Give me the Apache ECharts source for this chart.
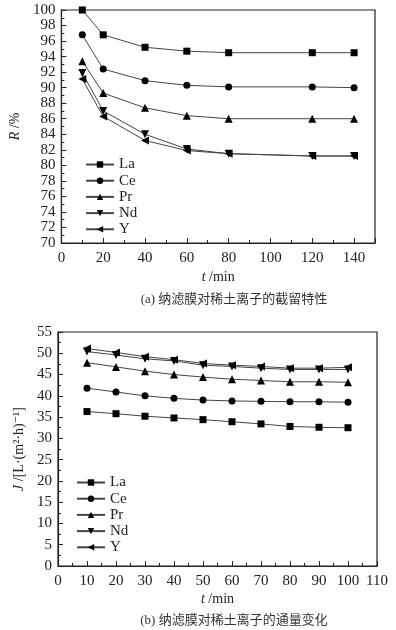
<!DOCTYPE html>
<html>
<head>
<meta charset="utf-8">
<script src="https://cdn.jsdelivr.net/npm/echarts@6/dist/echarts.min.js"></script>
<style>
  html, body { margin: 0; padding: 0; background: #fff; }
  #main { width: 396px; height: 630px; }
</style>
</head>
<body>
<div id="main"></div>
<script>
// (a) 截留特性
const timeA = [10, 20, 40, 60, 80, 120, 140];
const rejLa = [100.0, 96.8, 95.2, 94.7, 94.5, 94.5, 94.5];
const rejCe = [96.8, 92.4, 90.9, 90.3, 90.1, 90.1, 90.0];
const rejPr = [93.4, 89.3, 87.4, 86.4, 86.0, 86.0, 86.0];
const rejNd = [91.9, 87.0, 84.0, 82.1, 81.5, 81.2, 81.2];
const rejY  = [91.1, 86.3, 83.2, 81.9, 81.5, 81.2, 81.2];

// (b) 通量变化
const timeB = [10, 20, 30, 40, 50, 60, 70, 80, 90, 100];
const fluxLa = [36.3, 35.8, 35.2, 34.8, 34.4, 33.9, 33.4, 32.8, 32.6, 32.5];
const fluxCe = [41.8, 40.9, 40.0, 39.4, 39.0, 38.8, 38.7, 38.6, 38.6, 38.5];
const fluxPr = [47.8, 46.8, 45.8, 45.0, 44.4, 43.9, 43.6, 43.3, 43.3, 43.2];
const fluxNd = [50.4, 49.6, 48.7, 48.2, 47.2, 46.9, 46.5, 46.2, 46.2, 46.2];
const fluxY  = [51.1, 50.2, 49.2, 48.5, 47.6, 47.2, 46.9, 46.5, 46.5, 46.7];

const names = ['La', 'Ce', 'Pr', 'Nd', 'Y'];
const symbols = ['rect', 'circle', 'triangle', 'triangle', 'triangle'];
const rotates = [0, 0, 0, 180, 90];
const symSizes = [7, 7, 8, 8, 8];

const serif = '"Liberation Serif", "DejaVu Serif", serif';
const cjk = '"Liberation Serif", "Noto Sans CJK SC", serif';

const myChart = echarts.init(document.getElementById('main'));

function pairs(xs, ys) {
  return xs.map((x, i) => [x, ys[i]]);
}

function makeSeries(idx, xs, ys, k) {
  return {
    name: names[k],
    type: 'line',
    xAxisIndex: idx,
    yAxisIndex: idx,
    data: pairs(xs, ys),
    symbol: symbols[k],
    symbolRotate: rotates[k],
    symbolSize: symSizes[k],
    showAllSymbol: true,
    lineStyle: { color: '#444', width: 1 },
    itemStyle: { color: '#000' },
    emphasis: { disabled: true }
  };
}

const seriesA = [rejLa, rejCe, rejPr, rejNd, rejY].map((d, i) => makeSeries(0, timeA, d, i));
const seriesB = [fluxLa, fluxCe, fluxPr, fluxNd, fluxY].map((d, i) => makeSeries(1, timeB, d, i));

const axisText = { color: '#222', fontFamily: serif, fontSize: 15 };
const nameStyle = {
  fontFamily: serif, fontSize: 14, color: '#222',
  rich: { i: { fontFamily: serif, fontSize: 14, fontStyle: 'italic', color: '#222' } }
};
const legendStyle = {
  data: names, orient: 'vertical',
  itemWidth: 28, itemHeight: 8, itemGap: 1.2,
  textStyle: { fontFamily: serif, fontSize: 15, lineHeight: 14, color: '#222' },
  selectedMode: false
};
function axisCommon() {
  return {
    axisLine: { lineStyle: { color: '#222', width: 1.2 } },
    axisTick: { inside: true, length: 5, lineStyle: { color: '#222' } },
    minorTick: { show: true, splitNumber: 2, length: 3, lineStyle: { color: '#222' } },
    splitLine: { show: false }
  };
}

const option = {
  backgroundColor: '#fff',
  animation: false,
  title: [
    {
      text: '(a) 纳滤膜对稀土离子的截留特性',
      left: 229, top: 288, textAlign: 'center',
      textStyle: { fontFamily: cjk, fontSize: 13, fontWeight: 'normal', color: '#333' }
    },
    {
      text: '(b) 纳滤膜对稀土离子的通量变化',
      left: 229, top: 609, textAlign: 'center',
      textStyle: { fontFamily: cjk, fontSize: 13, fontWeight: 'normal', color: '#333' }
    }
  ],
  grid: [
    { left: 57, right: 21, top: 10, height: 233, show: true, borderColor: '#222', borderWidth: 1.2 },
    { left: 58, right: 19, top: 332, height: 234, show: true, borderColor: '#222', borderWidth: 1.2 }
  ],
  legend: [
    Object.assign({ left: 80, top: 152 }, legendStyle),
    Object.assign({ left: 71, top: 470 }, legendStyle)
  ],
  xAxis: [
    Object.assign({
      gridIndex: 0, type: 'value', min: 0, max: 150, interval: 20,
      name: '{i|t} /min', nameLocation: 'middle', nameGap: 27, nameTextStyle: nameStyle,
      axisLabel: Object.assign({ margin: 8, showMaxLabel: false }, axisText)
    }, axisCommon()),
    Object.assign({
      gridIndex: 1, type: 'value', min: 0, max: 110, interval: 10,
      name: '{i|t} /min', nameLocation: 'middle', nameGap: 26, nameTextStyle: nameStyle,
      axisLabel: Object.assign({ margin: 8 }, axisText)
    }, axisCommon())
  ],
  yAxis: [
    Object.assign({
      gridIndex: 0, type: 'value', min: 70, max: 100, interval: 2,
      name: '{i|R} /%', nameLocation: 'middle', nameGap: 25, nameTextStyle: nameStyle,
      axisLabel: Object.assign({ margin: 6 }, axisText)
    }, axisCommon()),
    Object.assign({
      gridIndex: 1, type: 'value', min: 0, max: 55, interval: 5,
      name: '{i|J} /[L·(m²·h)⁻¹]', nameLocation: 'middle', nameGap: 25, nameTextStyle: nameStyle,
      axisLabel: Object.assign({ margin: 6 }, axisText)
    }, axisCommon())
  ],
  series: seriesA.concat(seriesB)
};

myChart.setOption(option);
</script>
</body>
</html>
